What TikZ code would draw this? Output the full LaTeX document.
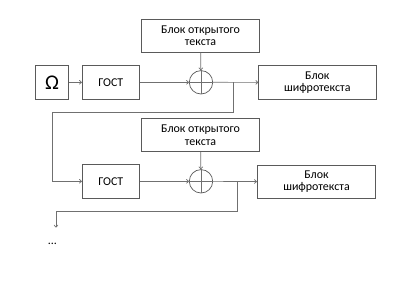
\documentclass[tikz,border=0pt]{standalone}
\usepackage{fontspec}
\setmainfont{Carlito}
\usetikzlibrary{arrows.meta,positioning,calc}
\definecolor{Edge}{HTML}{5A5A5A}
\definecolor{Wire}{HTML}{707070}
\tikzset{
  flowarrow/.style={-{To[length=2.8bp,width=4.5bp]}, line width=0.7bp, draw=Wire},
  wireline/.style={line width=0.7bp, draw=Wire},
  blocknode/.style={draw=Edge, fill=white, line width=0.8bp, align=center, inner sep=0pt, font=\fontsize{12}{12.6}\selectfont},
  xorcircle/.style={circle, draw=Edge, line width=0.7bp, minimum size=23.4bp, inner sep=0pt},
}
\begin{document}
\begin{tikzpicture}[x=1bp,y=-1bp]
\path[use as bounding box] (0,0) rectangle (400,290);

% first stage
\node[blocknode,minimum width=117.6bp,minimum height=33bp] (open1) at (200.5,35.8) {Блок открытого\\текста};
\node[blocknode,minimum width=32.6bp,minimum height=33.3bp,font=\fontsize{21}{21}\selectfont] (omega) at (52,82.3) {Ω};
\node[blocknode,minimum width=57bp,minimum height=33.3bp] (gost1) at (110.8,82.3) {ГОСТ};
\node[xorcircle] (xor1) at (201,82.3) {};
\node[blocknode,minimum width=117.3bp,minimum height=33.6bp] (cipher1) at (317.3,82.5) {Блок\\шифротекста};
\draw[wireline] (xor1.north) -- (xor1.south);
\draw[wireline] (xor1.west) -- (xor1.east);
\draw[flowarrow] (omega) -- (gost1);
\draw[flowarrow] (gost1) -- (xor1);
\draw[flowarrow] (open1) -- (xor1);
\draw[flowarrow] (xor1) -- (cipher1);

% second stage
\node[blocknode,minimum width=117.6bp,minimum height=33.4bp] (open2) at (200.5,135) {Блок открытого\\текста};
\node[blocknode,minimum width=57bp,minimum height=34bp] (gost2) at (110.8,181.3) {ГОСТ};
\node[xorcircle] (xor2) at (201,181.3) {};
\node[blocknode,minimum width=118.4bp,minimum height=33bp] (cipher2) at (316.5,181.8) {Блок\\шифротекста};
\draw[wireline] (xor2.north) -- (xor2.south);
\draw[wireline] (xor2.west) -- (xor2.east);
\draw[flowarrow] (gost2) -- (xor2);
\draw[flowarrow] (open2) -- (xor2);
\draw[flowarrow] (xor2) -- (cipher2);

% feedback taps
\coordinate (tap1) at (233.3,82.3);
\coordinate (tap2) at (237,181.3);
\coordinate (next) at (56,227.5);
\draw[flowarrow] (tap1) |- (52.7,112.7) |- (gost2.west);
\draw[flowarrow] (tap2) |- (56,211) -- (next);
\node[font=\fontsize{12}{12}\selectfont] (dots) at (52.5,244) {...};
\end{tikzpicture}
\end{document}
